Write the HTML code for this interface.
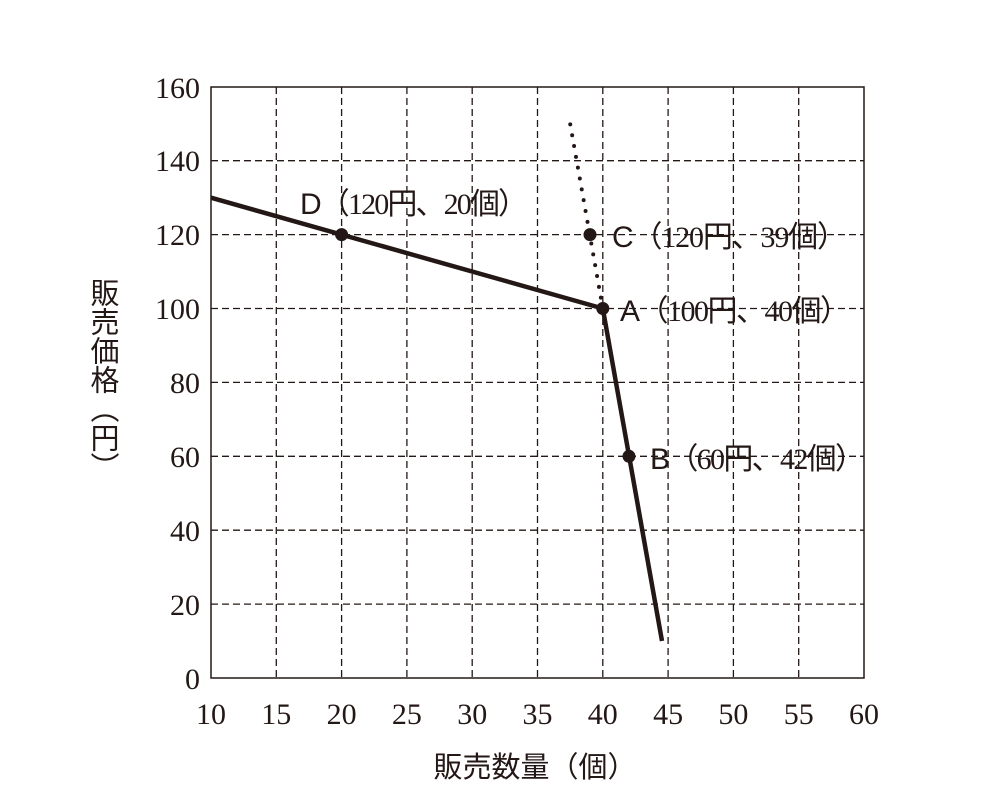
<!DOCTYPE html>
<html><head><meta charset="utf-8"><style>
html,body{margin:0;padding:0;background:#fff;}
svg{display:block;}
.t{font-family:"Liberation Serif","Noto Serif CJK SC",serif;font-size:30px;fill:#231815;}
.s{font-family:"Liberation Sans","Noto Sans CJK JP",sans-serif;}
.j{font-family:"Liberation Serif","Noto Sans CJK JP",sans-serif;font-size:30px;fill:#231815;}
</style></head><body>
<svg width="984" height="804" viewBox="0 0 984 804" xmlns="http://www.w3.org/2000/svg">
<g stroke="#231815" stroke-width="1.3" stroke-dasharray="7,4" fill="none">
<line x1="276.3" y1="87" x2="276.3" y2="678"/>
<line x1="341.6" y1="87" x2="341.6" y2="678"/>
<line x1="406.9" y1="87" x2="406.9" y2="678"/>
<line x1="472.2" y1="87" x2="472.2" y2="678"/>
<line x1="537.5" y1="87" x2="537.5" y2="678"/>
<line x1="602.8" y1="87" x2="602.8" y2="678"/>
<line x1="668.1" y1="87" x2="668.1" y2="678"/>
<line x1="733.4" y1="87" x2="733.4" y2="678"/>
<line x1="798.7" y1="87" x2="798.7" y2="678"/>
<line x1="211" y1="604.1" x2="864" y2="604.1"/>
<line x1="211" y1="530.2" x2="864" y2="530.2"/>
<line x1="211" y1="456.3" x2="864" y2="456.3"/>
<line x1="211" y1="382.4" x2="864" y2="382.4"/>
<line x1="211" y1="308.5" x2="864" y2="308.5"/>
<line x1="211" y1="234.6" x2="864" y2="234.6"/>
<line x1="211" y1="160.7" x2="864" y2="160.7"/>
</g>
<rect x="211" y="87" width="653" height="591" fill="none" stroke="#231815" stroke-width="1.5"/>
<g class="t" text-anchor="end">
<text x="200" y="689">0</text><text x="200" y="615">20</text><text x="200" y="541">40</text>
<text x="200" y="467">60</text><text x="200" y="393">80</text><text x="200" y="319">100</text>
<text x="200" y="245">120</text><text x="200" y="171">140</text><text x="200" y="98">160</text>
</g>
<g class="t" text-anchor="middle">
<text x="211" y="724">10</text><text x="276.3" y="724">15</text><text x="341.6" y="724">20</text>
<text x="406.9" y="724">25</text><text x="472.2" y="724">30</text><text x="537.5" y="724">35</text>
<text x="602.8" y="724">40</text><text x="668.1" y="724">45</text><text x="733.4" y="724">50</text>
<text x="798.7" y="724">55</text><text x="864" y="724">60</text>
</g>
<polyline points="211,197.7 602.8,308.5 662,641" fill="none" stroke="#231815" stroke-width="4.5" stroke-linejoin="round"/>
<line x1="602.8" y1="308.5" x2="570" y2="123" stroke="#231815" stroke-width="4" stroke-dasharray="0,11" stroke-linecap="round"/>
<g fill="#231815">
<circle cx="341.6" cy="234.6" r="6.5"/><circle cx="590" cy="234.6" r="6.5"/>
<circle cx="602.8" cy="308.5" r="6.5"/><circle cx="629" cy="456.3" r="6.5"/>
</g>
<g class="j">
<text x="300" y="214" textLength="228"><tspan class="s">D</tspan>（120円、20個）</text>
<text x="612" y="247" textLength="235"><tspan class="s">C</tspan>（120円、39個）</text>
<text x="620" y="321" textLength="230"><tspan class="s">A</tspan>（100円、40個）</text>
<text x="650" y="469" textLength="215"><tspan class="s">B</tspan>（60円、42個）</text>
</g>
<text x="535" y="777" text-anchor="middle" style="font-family:'Noto Sans CJK JP',sans-serif;font-size:29px;fill:#231815">販売数量（個）</text>
<text x="105" y="278" style="font-family:'Noto Sans CJK JP',sans-serif;font-size:29px;fill:#231815;writing-mode:tb;glyph-orientation-vertical:0">販売価格（円）</text>
</svg>
</body></html>
